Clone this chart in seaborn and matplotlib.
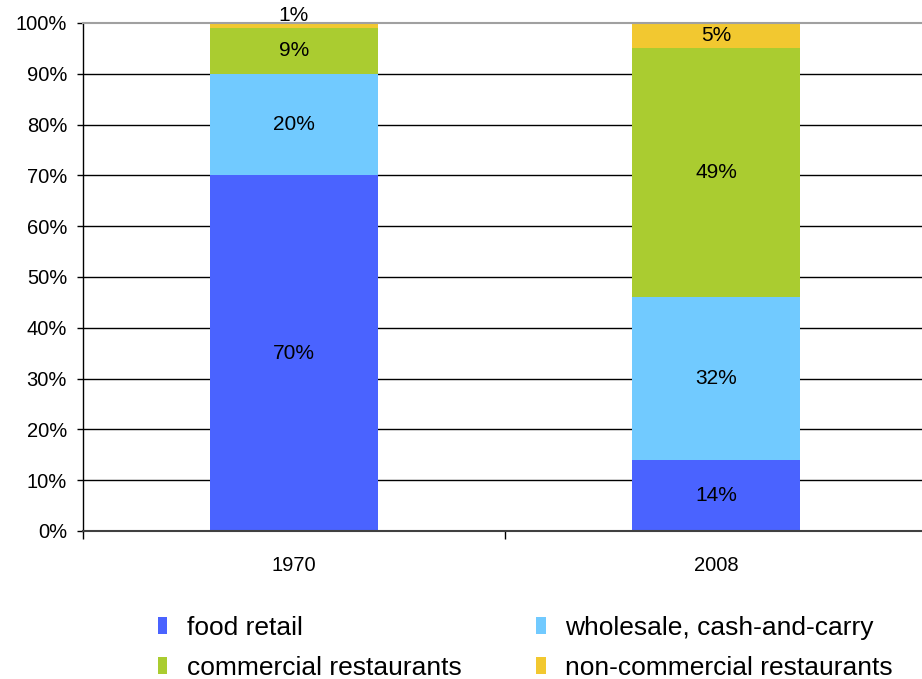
import matplotlib
matplotlib.use("Agg")
import matplotlib.pyplot as plt
import seaborn as sns
import pandas as pd
import numpy as np
from matplotlib.patches import Patch
from matplotlib.ticker import FixedLocator, FuncFormatter

years = ["1970", "2008"]
segments = ["food retail", "wholesale, cash-and-carry",
            "commercial restaurants", "non-commercial restaurants"]
food_retail = [70, 14]
wholesale = [20, 32]
commercial = [9, 49]
non_commercial = [1, 5]
colors = ["#4A63FF", "#71CAFF", "#AACC30", "#F2C830"]
yticks = list(range(0, 101, 10))

sns.set_theme(style="white")
plt.rcParams["font.family"] = ["Liberation Sans", "DejaVu Sans"]
plt.rcParams["text.color"] = "black"
plt.rcParams["xtick.color"] = "black"
plt.rcParams["ytick.color"] = "black"

values = [food_retail, wholesale, commercial, non_commercial]
cum = np.cumsum(np.array(values), axis=0)

fig = plt.figure(figsize=(9.22, 6.79), dpi=100)
ax = fig.add_axes([83/922, 1-531/679, 844/922, (531-23)/679])

# draw cumulative bars from top layer down so each segment shows
for k in range(len(segments) - 1, -1, -1):
    df = pd.DataFrame({"year": years, "value": cum[k]})
    sns.barplot(data=df, x="year", y="value", color=colors[k], width=0.4,
                saturation=1, ax=ax, zorder=3, linewidth=0)

# labels
for k in range(len(segments)):
    for i in range(len(years)):
        v = values[k][i]
        y = cum[k][i] - v / 2
        if v < 3:
            y = cum[k][i] + 1.4
        ax.text(i, y, f"{v}%", ha="center", va="center", fontsize=15,
                color="black", zorder=5)

ax.set_xlim(-0.5, 1.5)
ax.set_ylim(0, 100)
ax.set_xlabel("")
ax.set_ylabel("")

ax.yaxis.set_major_locator(FixedLocator(yticks))
ax.yaxis.set_major_formatter(FuncFormatter(lambda v, p: f"{int(v)}%"))
for yv in yticks[1:-1]:
    ax.axhline(yv, color="black", lw=1, zorder=1)

ax.set_xticks([0, 1])
ax.set_xticklabels(years)
ax.set_xticks([-0.5, 0.5, 1.5], minor=True)
ax.tick_params(axis="x", which="major", length=0, pad=18, labelsize=14.5,
               colors="black")
ax.tick_params(axis="x", which="minor", length=6, width=1, color="black",
               direction="out", bottom=True)
ax.tick_params(axis="y", which="major", length=4.5, width=1, color="black",
               direction="out", left=True, pad=7, labelsize=14.5,
               labelcolor="black")

ax.spines["left"].set_color("black")
ax.spines["left"].set_linewidth(1)
ax.spines["bottom"].set_color("#404040")
ax.spines["bottom"].set_linewidth(1.5)
ax.spines["top"].set_color("#A0A0A0")
ax.spines["top"].set_linewidth(1.5)
ax.spines["right"].set_visible(False)
for s in ax.spines.values():
    s.set_zorder(4)

handles = [Patch(facecolor=c, edgecolor="none") for c in colors]
order = [0, 2, 1, 3]  # row-major appearance with 2 columns
leg = fig.legend([handles[j] for j in order],
                 [segments[j] for j in order],
                 ncol=2, loc="upper left", bbox_to_anchor=(158/922, 1-616/679),
                 frameon=False, fontsize=19, handlelength=0.35,
                 handleheight=0.6, handletextpad=0.75, columnspacing=2.83,
                 labelspacing=0.6, borderpad=0, borderaxespad=0)
for t in leg.get_texts():
    t.set_color("black")

fig.savefig("out.png", dpi=100)
